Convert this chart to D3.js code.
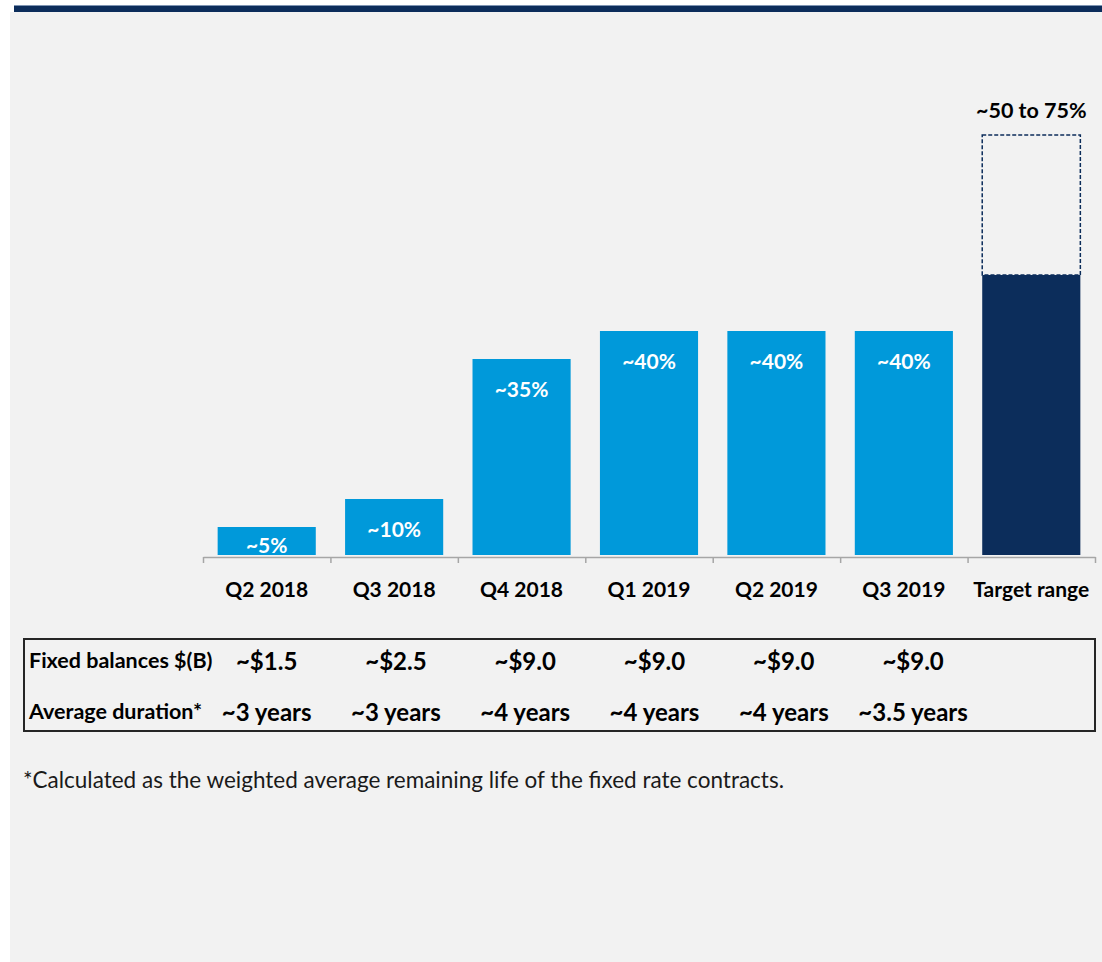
<!DOCTYPE html>
<html>
<head>
<meta charset="utf-8">
<script src="https://cdn.jsdelivr.net/npm/d3@7"></script>
<style>
  html, body { margin: 0; padding: 0; background: #ffffff; }
  svg { display: block; }
  text { font-family: Lato, "Open Sans", sans-serif; }
</style>
</head>
<body>
<div id="wrapper"></div>
<script>
const categories = ["Q2 2018", "Q3 2018", "Q4 2018", "Q1 2019", "Q2 2019", "Q3 2019", "Target range"];
const shares = [5, 10, 35, 40, 40, 40, 50];
const shareLabels = ["~5%", "~10%", "~35%", "~40%", "~40%", "~40%", ""];
const targetRange = [50, 75];
const targetLabel = "~50 to 75%";
const rowLabels = ["Fixed balances $(B)", "Average duration*"];
const fixedBalances = ["~$1.5", "~$2.5", "~$9.0", "~$9.0", "~$9.0", "~$9.0"];
const durations = ["~3 years", "~3 years", "~4 years", "~4 years", "~4 years", "~3.5 years"];
const footnote = "*Calculated as the weighted average remaining life of the fixed rate contracts.";

const drawChart = () => {
  const dataset = categories.map((c, i) => ({
    category: c,
    share: shares[i],
    label: shareLabels[i],
  }));

  const xAccessor = (d) => d.category;
  const yAccessor = (d) => d.share;

  const width = 1102;
  const height = 962;

  const blue = "#0099da";
  const navy = "#0c2d5b";

  const wrapper = d3
    .select("#wrapper")
    .append("svg")
    .attr("width", width)
    .attr("height", height);

  // slide panel + header strip
  wrapper.append("rect")
    .attr("x", 10).attr("y", 12)
    .attr("width", width - 10).attr("height", height - 12)
    .attr("fill", "#f2f2f2");
  wrapper.append("rect")
    .attr("x", 14).attr("y", 5)
    .attr("width", width - 14).attr("height", 1)
    .attr("fill", "#7f95b3");
  wrapper.append("rect")
    .attr("x", 14).attr("y", 6)
    .attr("width", width - 14).attr("height", 6)
    .attr("fill", navy);

  const xScale = d3
    .scaleBand()
    .domain(categories)
    .range([203, 1095])
    .paddingInner(0.23)
    .paddingOuter(0.115);

  const yScale = d3
    .scaleLinear()
    .domain([0, 75])
    .range([555, 135]);

  const bounds = wrapper.append("g");

  // target range outline
  bounds.append("rect")
    .attr("x", xScale("Target range"))
    .attr("y", yScale(targetRange[1]))
    .attr("width", xScale.bandwidth())
    .attr("height", yScale(targetRange[0]) - yScale(targetRange[1]))
    .attr("fill", "none")
    .attr("stroke", navy)
    .attr("stroke-width", 1.5)
    .attr("stroke-dasharray", "4 2");

  bounds.selectAll(".bar")
    .data(dataset)
    .join("rect")
    .attr("class", "bar")
    .attr("x", (d) => xScale(xAccessor(d)))
    .attr("y", (d) => yScale(yAccessor(d)))
    .attr("width", xScale.bandwidth())
    .attr("height", (d) => yScale(0) - yScale(yAccessor(d)))
    .attr("fill", (d) => (d.category === "Target range" ? navy : blue));

  bounds.selectAll(".bar-label")
    .data(dataset.filter((d) => d.label))
    .join("text")
    .attr("class", "bar-label")
    .attr("x", (d) => xScale(xAccessor(d)) + xScale.bandwidth() / 2)
    .attr("y", (d) => Math.min(yScale(yAccessor(d)) + 38, yScale(0) - 2))
    .attr("text-anchor", "middle")
    .attr("fill", "#ffffff")
    .attr("font-weight", 700)
    .attr("font-size", 21)
    .text((d) => d.label);

  bounds.append("text")
    .attr("x", xScale("Target range") + xScale.bandwidth() / 2)
    .attr("y", yScale(targetRange[1]) - 17)
    .attr("text-anchor", "middle")
    .attr("font-weight", 700)
    .attr("font-size", 21.5)
    .attr("fill", "#000")
    .text(targetLabel);

  // axis with ticks between the bands
  const tickScale = d3.scaleLinear()
    .domain([0, categories.length])
    .range(xScale.range());

  const xAxisGenerator = d3
    .axisBottom(tickScale)
    .tickValues(d3.range(categories.length + 1))
    .tickFormat("")
    .tickSize(6)
    .tickSizeOuter(0);

  const xAxis = bounds.append("g")
    .attr("class", "x-axis")
    .attr("transform", "translate(0, 557)")
    .call(xAxisGenerator);
  xAxis.selectAll("path, line")
    .attr("stroke", "#a6a6a6")
    .attr("stroke-width", 1.5);

  bounds.selectAll(".cat-label")
    .data(categories)
    .join("text")
    .attr("class", "cat-label")
    .attr("x", (d) => xScale(d) + xScale.bandwidth() / 2)
    .attr("y", 597)
    .attr("text-anchor", "middle")
    .attr("font-weight", 700)
    .attr("font-size", 21)
    .attr("fill", "#000")
    .text((d) => d);

  // data table under the chart
  const table = wrapper.append("g");
  table.append("rect")
    .attr("x", 24).attr("y", 639)
    .attr("width", 1095 - 24).attr("height", 92)
    .attr("fill", "none")
    .attr("stroke", "#262626")
    .attr("stroke-width", 2);

  const colScale = d3.scaleBand()
    .domain(categories)
    .range([202, 1107]);

  const rows = [fixedBalances, durations];
  const rowBaselines = [670, 721];

  table.selectAll(".row-label")
    .data(rowLabels)
    .join("text")
    .attr("class", "row-label")
    .attr("x", 29)
    .attr("y", (d, i) => rowBaselines[i] - 2)
    .attr("font-weight", 700)
    .attr("font-size", 21.5)
    .attr("fill", "#000")
    .text((d) => d);

  rows.forEach((row, r) => {
    table.selectAll(`.cell-${r}`)
      .data(row)
      .join("text")
      .attr("class", `cell-${r}`)
      .attr("x", (d, i) => colScale(categories[i]) + colScale.bandwidth() / 2)
      .attr("y", rowBaselines[r])
      .attr("text-anchor", "middle")
      .attr("font-weight", 700)
      .attr("font-size", 24)
      .attr("fill", "#000")
      .text((d) => d);
  });

  wrapper.append("text")
    .attr("x", 23)
    .attr("y", 788)
    .attr("font-size", 22.5)
    .attr("fill", "#1a1a1a")
    .text(footnote);
};
drawChart();
</script>
</body>
</html>
